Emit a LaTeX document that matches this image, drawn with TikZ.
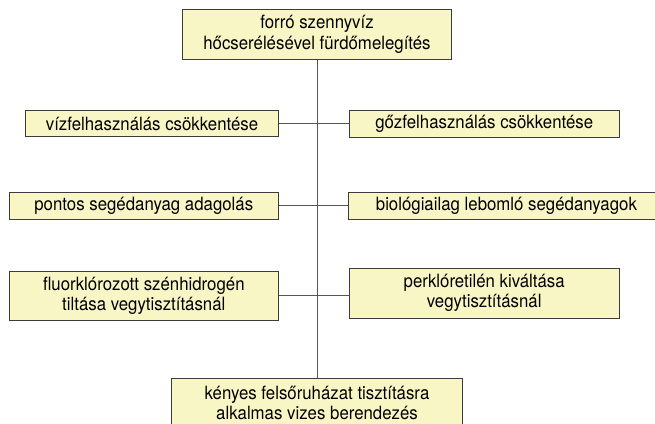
\documentclass[tikz,border=0pt]{standalone}
\usepackage{fontspec}
\setmainfont{TeX Gyre Heros}[FakeStretch=0.92]
\definecolor{boxfill}{RGB}{249,246,198}
\definecolor{boxline}{RGB}{60,60,60}
\definecolor{linkgray}{RGB}{85,85,85}
\begin{document}
\begin{tikzpicture}[
    % Styles
    item/.style={draw=boxline, fill=boxfill, line width=0.7pt, inner sep=0pt, align=center, minimum height=0.68cm, font=\fontsize{13}{14.4}\selectfont},
    tallitem/.style={item, minimum height=1.25cm},
    link/.style={draw=linkgray, line width=0.7pt},
]
\useasboundingbox (0,0) rectangle (16.375,10.6);

% Top
\node[tallitem, minimum width=6.735cm] (heat) at (7.925, 9.74) {forró szennyvíz\\hőcserélésével fürdőmelegítés};

% Row 1
\node[item, minimum width=6.315cm, minimum height=0.65cm] (water) at (3.8, 7.51) {vízfelhasználás csökkentése};
\node[item, minimum width=6.74cm] (steam) at (12.105, 7.51) {gőzfelhasználás csökkentése};

% Row 2
\node[item, minimum width=6.725cm] (dosing) at (3.595, 5.46) {pontos segédanyag adagolás};
\node[item, minimum width=7.9cm] (bio) at (12.66, 5.46) {biológiailag lebomló segédanyagok};

% Row 3
\node[tallitem, minimum width=6.725cm, minimum height=1.225cm] (cfc) at (3.595, 3.21) {fluorklórozott szénhidrogén\\tiltása vegytisztításnál};
\node[tallitem, minimum width=6.74cm] (perc) at (12.105, 3.27) {perklóretilén kiváltása\\vegytisztításnál};

% Bottom
\node[tallitem, minimum width=7.29cm] (wet) at (7.925, 0.525) {kényes felsőruházat tisztításra\\alkalmas vizes berendezés};

% Connectors
\draw[link] (heat) -- (wet);
\draw[link] (water.east) -- (water.east -| steam.west);
\draw[link] (dosing.east) -- (dosing.east -| bio.west);
\draw[link] (cfc.east) -- (cfc.east -| perc.west);

\end{tikzpicture}
\end{document}
